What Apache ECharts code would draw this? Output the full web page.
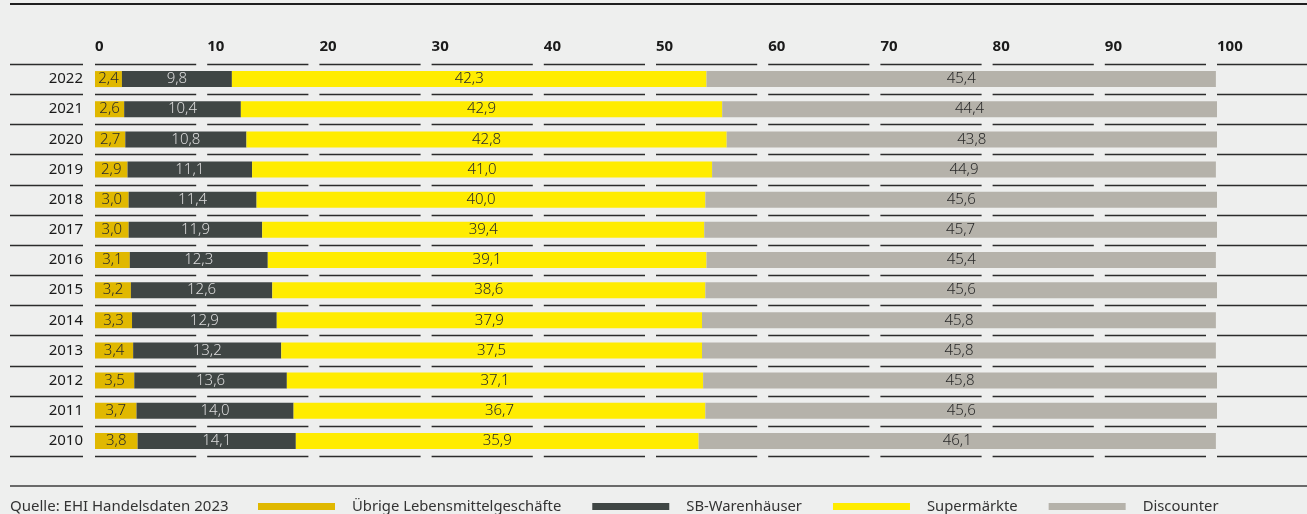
<!DOCTYPE html>
<html>
<head>
<meta charset="utf-8">
<script src="https://cdn.jsdelivr.net/npm/echarts@6/dist/echarts.min.js"></script>
<style>
html,body{margin:0;padding:0;background:#eeefee;}
#chart{width:1307px;height:514px;}
</style>
</head>
<body>
<div id="chart"></div>
<script>
var years = ['2022','2021','2020','2019','2018','2017','2016','2015','2014','2013','2012','2011','2010'];
var uebrige = [2.4,2.6,2.7,2.9,3.0,3.0,3.1,3.2,3.3,3.4,3.5,3.7,3.8];
var sbWarenhaeuser = [9.8,10.4,10.8,11.1,11.4,11.9,12.3,12.6,12.9,13.2,13.6,14.0,14.1];
var supermaerkte = [42.3,42.9,42.8,41.0,40.0,39.4,39.1,38.6,37.9,37.5,37.1,36.7,35.9];
var discounter = [45.4,44.4,43.8,44.9,45.6,45.7,45.4,45.6,45.8,45.8,45.8,45.6,46.1];
var seriesNames = ['Übrige Lebensmittelgeschäfte','SB-Warenhäuser','Supermärkte','Discounter'];
var xTicks = [0,10,20,30,40,50,60,70,80,90,100];
var sourceText = 'Quelle: EHI Handelsdaten 2023';

var FONT = '"Noto Sans", sans-serif';
var colors = ['#e0b800','#3f4644','#ffec00','#b5b2aa'];
var labelColors = ['#2a2a2a','#dcdcdc','#2a2a2a','#2a2a2a'];

function fmt(v){ return v.toFixed(1).replace('.', ','); }

var chart = echarts.init(document.getElementById('chart'));

var boundaries = [];
for (var k = 0; k <= years.length; k++) boundaries.push([0, 0]);

function renderSegments(params, api) {
  var k = params.dataIndex;
  var c0 = api.coord([0, 0]);
  var c1 = api.coord([0, 1]);
  var step = c1[1] - c0[1];
  var y = Math.round(c0[1] - step / 2 + k * step) + 0.5;
  var x0 = api.coord([0, 0])[0];
  var unit = api.coord([10, 0])[0] - x0;
  var segLen = unit - 11;
  var children = [];
  var style = {stroke: '#2b2b2b', lineWidth: 1.4};
  children.push({type: 'line', shape: {x1: x0 - 85, y1: y, x2: x0 - 12, y2: y}, style: style});
  for (var i = 0; i < xTicks.length; i++) {
    var xs = api.coord([xTicks[i], 0])[0];
    var len = (i === xTicks.length - 1) ? 200 : segLen;
    children.push({type: 'line', shape: {x1: xs, y1: y, x2: xs + len, y2: y}, style: style});
  }
  return {type: 'group', children: children};
}

var dataArrays = [uebrige, sbWarenhaeuser, supermaerkte, discounter];
var barSeries = dataArrays.map(function(arr, i){
  return {
    name: seriesNames[i],
    type: 'bar',
    stack: 'total',
    barWidth: 16,
    data: arr,
    itemStyle: {color: colors[i]},
    label: {
      show: true,
      position: 'inside',
      color: labelColors[i],
      fontFamily: FONT,
      fontSize: 15,
      fontWeight: 300,
      formatter: function(p){ return fmt(p.value); }
    },
    emphasis: {disabled: true},
    z: 3
  };
});

var option = {
  backgroundColor: '#eeefee',
  animation: false,
  title: {
    text: sourceText,
    left: 10,
    top: 499,
    padding: 0,
    textStyle: {fontFamily: FONT, fontSize: 15, fontWeight: 'normal', color: '#333'}
  },
  legend: {
    data: seriesNames,
    left: 258,
    top: 499,
    padding: 0,
    itemWidth: 77,
    itemHeight: 7,
    itemGap: 31,
    icon: 'rect',
    selectedMode: false,
    textStyle: {fontFamily: FONT, fontSize: 14.8, color: '#333', padding: [0,0,0,12]}
  },
  grid: {left: 95, right: 90, top: 64, bottom: 58, containLabel: false},
  xAxis: {
    type: 'value',
    position: 'top',
    min: 0,
    max: 100,
    interval: 10,
    axisLine: {show: false},
    axisTick: {show: false},
    splitLine: {show: false},
    axisLabel: {
      align: 'left',
      margin: 10,
      fontFamily: FONT,
      fontSize: 15,
      fontWeight: 'bold',
      color: '#1a1a1a',
      formatter: function(v){ return xTicks.indexOf(v) >= 0 ? String(v) : ''; }
    }
  },
  yAxis: {
    type: 'category',
    data: years,
    inverse: true,
    axisLine: {show: false},
    axisTick: {show: false},
    splitLine: {show: false},
    axisLabel: {
      margin: 12,
      fontFamily: FONT,
      fontSize: 15,
      color: '#1a1a1a'
    }
  },
  graphic: [
    {type: 'line', shape: {x1: 10, y1: 4, x2: 1307, y2: 4}, style: {stroke: '#1f1f1f', lineWidth: 2}},
    {type: 'line', shape: {x1: 10, y1: 486, x2: 1307, y2: 486}, style: {stroke: '#6a6a6a', lineWidth: 2}}
  ],
  series: barSeries.concat([{
    type: 'custom',
    name: 'grid-segments',
    renderItem: renderSegments,
    data: boundaries,
    clip: false,
    silent: true,
    z: 1
  }])
};

chart.setOption(option);
</script>
</body>
</html>
